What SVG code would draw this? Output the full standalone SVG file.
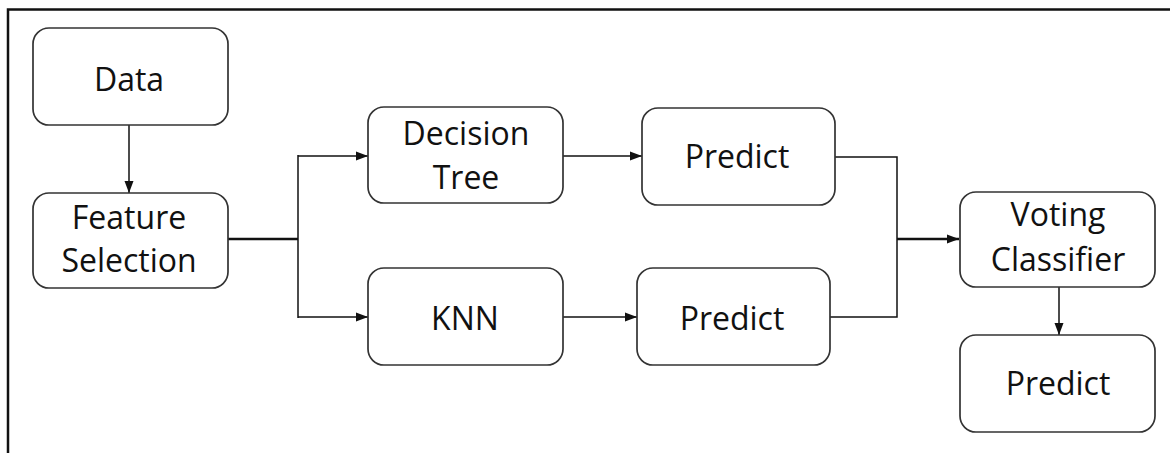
<svg xmlns="http://www.w3.org/2000/svg" width="1170" height="453" viewBox="0 0 1170 453">
  <style>
    .box { fill: #ffffff; stroke: #333333; stroke-width: 1.7; }
    .label { font-family: "Open Sans", "Liberation Sans", sans-serif; font-size: 32px; fill: #111111; text-anchor: middle; }
    .wire { fill: none; stroke: #111111; stroke-width: 1.5; }
    .bus { fill: none; stroke: #111111; stroke-width: 2.6; }
    .frame { fill: none; stroke: #111111; stroke-width: 2.5; }
  </style>
  <defs>
    <marker id="arrow" viewBox="0 0 12 10" refX="12" refY="5" markerWidth="12" markerHeight="10" markerUnits="userSpaceOnUse" orient="auto">
      <path d="M0,0.5 L12,5 L0,9.5 Z" fill="#111111"/>
    </marker>
  </defs>
  <rect width="1170" height="453" fill="#ffffff"/>

  <!-- outer frame: top and left edges -->
  <path class="frame" d="M8,453 V9.5 H1170"/>

  <g id="connectors">
    <path class="wire" d="M129,125 V193" marker-end="url(#arrow)"/>
    <path class="bus" d="M228,239 H298"/>
    <path class="wire" d="M298,155 V318"/>
    <path class="wire" d="M298,156 H368" marker-end="url(#arrow)"/>
    <path class="wire" d="M298,317 H368" marker-end="url(#arrow)"/>
    <path class="wire" d="M563,156 H642" marker-end="url(#arrow)"/>
    <path class="wire" d="M563,317 H637" marker-end="url(#arrow)"/>
    <path class="wire" d="M835,157 H897 V317 H830"/>
    <path class="bus" d="M897,239 H959" marker-end="url(#arrow)"/>
    <path class="wire" d="M1059,287 V335" marker-end="url(#arrow)"/>
  </g>

  <g id="data">
    <rect class="box" x="33" y="28" width="195" height="97" rx="16"/>
    <text class="label" x="129" y="91">Data</text>
  </g>

  <g id="feature-selection">
    <rect class="box" x="33" y="193" width="195" height="95" rx="16"/>
    <text class="label" x="129" y="229">Feature</text>
    <text class="label" x="129" y="272">Selection</text>
  </g>

  <g id="decision-tree">
    <rect class="box" x="368" y="107" width="195" height="96" rx="16"/>
    <text class="label" x="466" y="145">Decision</text>
    <text class="label" x="466" y="189">Tree</text>
  </g>

  <g id="predict-tree">
    <rect class="box" x="642" y="108" width="193" height="97" rx="16"/>
    <text class="label" x="737" y="168">Predict</text>
  </g>

  <g id="knn">
    <rect class="box" x="368" y="268" width="195" height="97" rx="16"/>
    <text class="label" x="465" y="330">KNN</text>
  </g>

  <g id="predict-knn">
    <rect class="box" x="637" y="268" width="193" height="97" rx="16"/>
    <text class="label" x="732" y="330">Predict</text>
  </g>

  <g id="voting-classifier">
    <rect class="box" x="960" y="192" width="195" height="95" rx="16"/>
    <text class="label" x="1058" y="226">Voting</text>
    <text class="label" x="1058" y="271">Classifier</text>
  </g>

  <g id="predict-final">
    <rect class="box" x="960" y="335" width="195" height="97" rx="16"/>
    <text class="label" x="1058" y="395">Predict</text>
  </g>
</svg>
